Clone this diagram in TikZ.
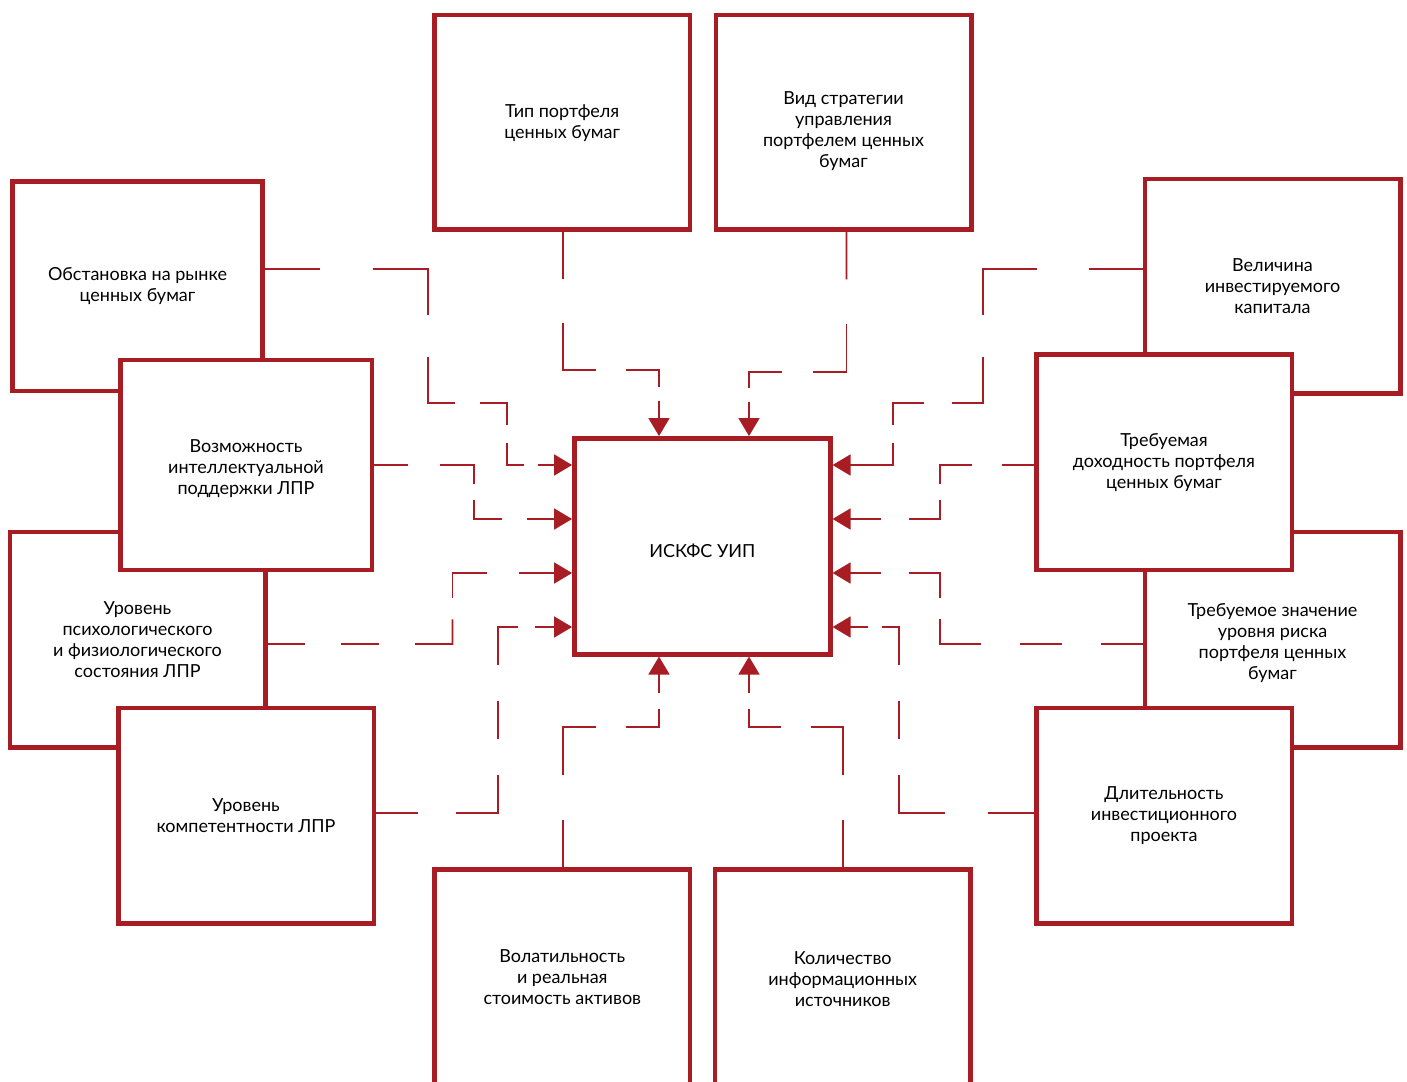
\documentclass[tikz,border=0pt]{standalone}
\usepackage{fontspec}
\setmainfont{Lato}
\usetikzlibrary{calc,arrows.meta}
\definecolor{dred}{RGB}{168,28,36}
\tikzset{
  box/.style={draw=dred, line width=4.5pt, fill=white, rectangle, inner sep=0pt,
    align=center, text=black, font=\fontsize{18}{21}\selectfont,
    minimum width=255.5pt, minimum height=215.5pt},
  conn/.style={draw=dred, line width=1.7pt, line cap=rect},
  tiparrow/.style={draw=dred, fill=dred, line width=1.7pt, line cap=butt,
    -{Triangle[length=18pt,width=21pt]}},
}
\newcommand\lowered[2]{\raisebox{-#1}[\height][\depth]{\begin{tabular}{@{}c@{}}#2\end{tabular}}}
\newcommand\dseg[3]{%
  \foreach \k in {0,...,#3}{%
    \pgfmathsetmacro\fa{2*\k/(2*#3+1)}%
    \pgfmathsetmacro\fb{(2*\k+1)/(2*#3+1)}%
    \draw[conn] ($(#1)!\fa!(#2)$) -- ($(#1)!\fb!(#2)$);
  }}
\newcommand\aseg[3]{%
  \coordinate (ab) at ($(#2)!18pt!(#1)$);
  \dseg{#1}{ab}{#3}
  \draw[tiparrow] (ab) -- (#2);
}
\begin{document}
\begin{tikzpicture}[x=1pt,y=-1pt]
\useasboundingbox (0,0) rectangle (1407,1081);
\clip (0,0) rectangle (1407,1081);
\fill[white] (0,0) rectangle (1407,1081);
% ---- lower layer boxes
\node[box, minimum width=250pt, minimum height=209.5pt] (obst) at (137.5,286.2) {Обстановка на рынке\\ценных бумаг};
\node[box] (psych) at (137.5,639.7) {Уровень\\психологического\\и физиологического\\состояния ЛПР};
\node[box, minimum height=214.3pt] (velich) at (1272.5,286.2) {Величина\\инвестируемого\\капитала};
\node[box] (risk) at (1272.5,639.7) {\lowered{4pt}{Требуемое значение\\уровня риска\\портфеля ценных\\бумаг}};
% ---- upper layer boxes
\node[box, minimum width=251.5pt, minimum height=210pt] (vozm) at (246,465.2) {\lowered{4pt}{Возможность\\интеллектуальной\\поддержки ЛПР}};
\node[box] (komp) at (246,815.5) {Уровень\\компетентности ЛПР};
\node[box] (dohod) at (1164,462.2) {Требуемая\\доходность портфеля\\ценных бумаг};
\node[box] (dlit) at (1164,815.5) {Длительность\\инвестиционного\\проекта};
\node[box, minimum height=214.3pt] (tip) at (562.2,122.2) {\lowered{2pt}{Тип портфеля\\ценных бумаг}};
\node[box, minimum height=214.3pt] (vid) at (843.5,122.2) {\lowered{10pt}{Вид стратегии\\управления\\портфелем ценных\\бумаг}};
\node[box, minimum width=256pt, minimum height=216pt] (c) at (702.3,546.3) {\raisebox{-5pt}[\height][\depth]{ИСКФС УИП}};
\node[box, minimum height=216pt] (volat) at (562.3,977.3) {Волатильность\\и реальная\\стоимость активов};
\node[box, minimum height=216pt] (kol) at (842.7,977.3) {\lowered{4pt}{Количество\\информационных\\источников}};

% ---- targets on the central block
\coordinate (tL1) at (c.west |- 0,465);
\coordinate (tL2) at (c.west |- 0,519);
\coordinate (tL3) at (c.west |- 0,573);
\coordinate (tL4) at (c.west |- 0,627);
\coordinate (tR1) at (c.east |- 0,465);
\coordinate (tR2) at (c.east |- 0,519);
\coordinate (tR3) at (c.east |- 0,573);
\coordinate (tR4) at (c.east |- 0,627);
\coordinate (tT1) at (659,0 |- c.north);
\coordinate (tT2) at (749,0 |- c.north);
\coordinate (tB1) at (659,0 |- c.south);
\coordinate (tB2) at (749,0 |- c.south);

% ---- Обстановка
\coordinate (a1) at (obst.east |- 0,269);
\coordinate (a2) at (428,269);
\coordinate (a3) at (428,403);
\coordinate (a4) at (507,403);
\coordinate (a5) at (507,465);
\dseg{a1}{a2}{1}\dseg{a2}{a3}{1}\dseg{a3}{a4}{1}\dseg{a4}{a5}{1}\aseg{a5}{tL1}{1}
% ---- Возможность
\coordinate (b1) at (vozm.east |- 0,465);
\coordinate (b2) at (474,465);
\coordinate (b3) at (474,519);
\dseg{b1}{b2}{1}\dseg{b2}{b3}{1}\aseg{b3}{tL2}{1}
% ---- Уровень психологического
\coordinate (p1) at (psych.east |- 0,644);
\coordinate (p2) at (452.5,644);
\coordinate (p3) at (452.5,573);
\dseg{p1}{p2}{2}\dseg{p2}{p3}{1}\aseg{p3}{tL3}{1}
% ---- Уровень компетентности
\coordinate (k1) at (komp.east |- 0,813);
\coordinate (k2) at (498,813);
\coordinate (k3) at (498,627);
\dseg{k1}{k2}{1}\dseg{k2}{k3}{2}\aseg{k3}{tL4}{1}
% ---- Тип портфеля
\coordinate (t1) at (563,0 |- tip.south);
\coordinate (t2) at (563,370);
\coordinate (t3) at (659,370);
\dseg{t1}{t2}{1}\dseg{t2}{t3}{1}\aseg{t3}{tT1}{1}
% ---- Вид стратегии
\coordinate (v1) at (846.5,0 |- vid.south);
\coordinate (v2) at (846.5,372);
\coordinate (v3) at (749,372);
\dseg{v1}{v2}{1}\dseg{v2}{v3}{1}\aseg{v3}{tT2}{1}
% ---- Величина
\coordinate (e1) at (velich.west |- 0,269);
\coordinate (e2) at (983,269);
\coordinate (e3) at (983,403);
\coordinate (e4) at (893,403);
\coordinate (e5) at (893,465);
\dseg{e1}{e2}{1}\dseg{e2}{e3}{1}\dseg{e3}{e4}{1}\dseg{e4}{e5}{1}\aseg{e5}{tR1}{0}
% ---- Требуемая доходность
\coordinate (d1) at (dohod.west |- 0,465);
\coordinate (d2) at (940,465);
\coordinate (d3) at (940,519);
\dseg{d1}{d2}{1}\dseg{d2}{d3}{1}\aseg{d3}{tR2}{1}
% ---- Требуемое значение риска
\coordinate (r1) at (risk.west |- 0,644);
\coordinate (r2) at (940,644);
\coordinate (r3) at (940,573);
\dseg{r1}{r2}{2}\dseg{r2}{r3}{1}\aseg{r3}{tR3}{1}
% ---- Длительность
\coordinate (l1) at (dlit.west |- 0,813);
\coordinate (l2) at (899,813);
\coordinate (l3) at (899,627);
\dseg{l1}{l2}{1}\dseg{l2}{l3}{2}\aseg{l3}{tR4}{1}
% ---- Количество
\coordinate (q1) at (843,0 |- kol.north);
\coordinate (q2) at (843,727);
\coordinate (q3) at (749,727);
\dseg{q1}{q2}{1}\dseg{q2}{q3}{1}\aseg{q3}{tB2}{1}
% ---- Волатильность
\coordinate (w1) at (563,0 |- volat.north);
\coordinate (w2) at (563,727);
\coordinate (w3) at (659,727);
\dseg{w1}{w2}{1}\dseg{w2}{w3}{1}\aseg{w3}{tB1}{1}
\end{tikzpicture}
\end{document}
